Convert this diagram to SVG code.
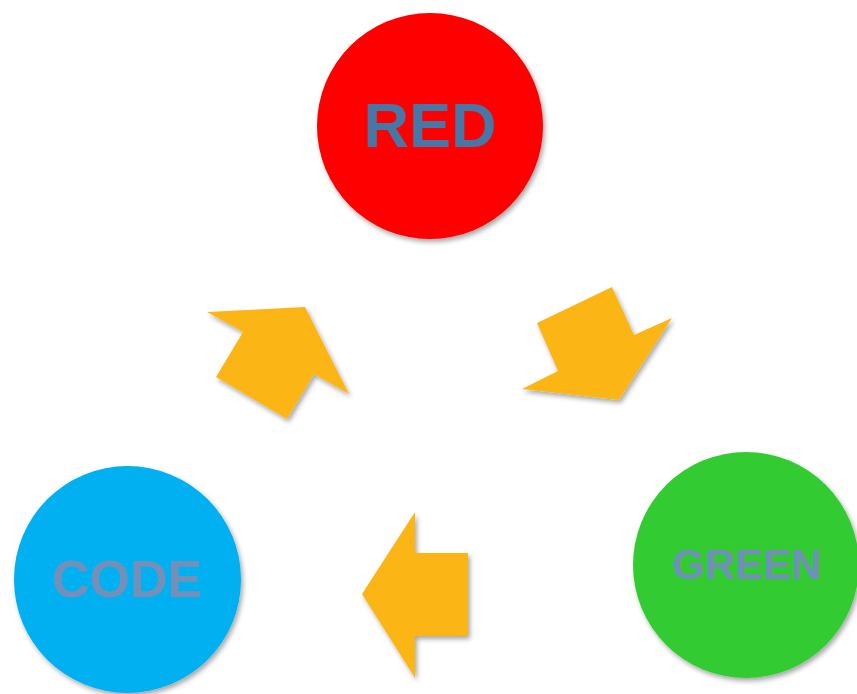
<svg xmlns="http://www.w3.org/2000/svg" width="857" height="694" viewBox="0 0 857 694">
  <defs>
    <filter id="shadow" x="-20%" y="-20%" width="140%" height="140%">
      <feDropShadow dx="2" dy="3" stdDeviation="2.5" flood-color="#000" flood-opacity="0.35"/>
    </filter>
  </defs>
  <style>
    .node { filter: url(#shadow); }
    .label { font-family: "Liberation Sans", Arial, sans-serif; font-weight: bold; text-anchor: middle; }
    .arrow { fill: #FBB616; filter: url(#shadow); }
  </style>
  <rect width="857" height="694" fill="#ffffff"/>

  <!-- cycle arrows -->
  <g id="connectors">
    <polygon class="arrow" points="207,312 305,307 349,394 314,374 287,419 216,377 243,332"/>
    <polygon class="arrow" points="537,323 612,287 634,335 672,318 619,400 522,389 558,371"/>
    <polygon class="arrow" points="415,512 415,553 468,553 468,636 415,636 415,678 362,594"/>
  </g>

  <g id="red">
    <circle class="node" cx="430" cy="126" r="113" fill="#FF0000"/>
    <text class="label" x="430" y="147" font-size="63" fill="#4677A7">RED</text>
  </g>

  <g id="green">
    <circle class="node" cx="746" cy="565" r="113" fill="#33CC33"/>
    <text class="label" x="747" y="579" font-size="42" fill="#7090B8">GREEN</text>
  </g>

  <g id="code">
    <circle class="node" cx="127.5" cy="579.5" r="113.5" fill="#00B0F0"/>
    <text class="label" x="127" y="597" font-size="52" fill="#7490B8">CODE</text>
  </g>
</svg>
